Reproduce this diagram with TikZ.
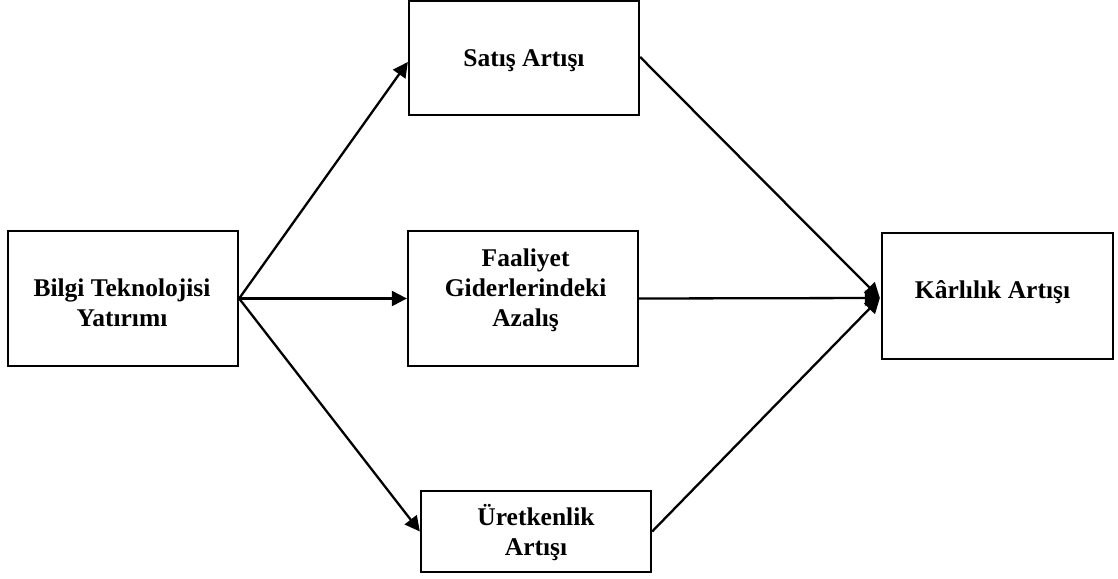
\documentclass[tikz,border=0pt]{standalone}
\usepackage{fontspec}
\setmainfont{Liberation Serif}
\usetikzlibrary{arrows.meta,calc}
\begin{document}
\begin{tikzpicture}[x=1pt,y=-1pt,
  box/.style={draw=black, line width=2.3pt, rectangle, inner sep=0pt},
  lbl/.style={anchor=base, align=center, inner sep=0pt,
    font=\bfseries\fontsize{25.5}{30}\selectfont},
  link/.style={draw=black, line width=2.3pt,
    -{Triangle[length=15pt,width=15pt]}}]
\useasboundingbox (0,0) rectangle (1118,578);

% boxes
\node[box, minimum width=230pt, minimum height=135pt] (inv)    at (123,298.5) {};
\node[box, minimum width=230pt, minimum height=114pt] (sales)  at (524,58) {};
\node[box, minimum width=230pt, minimum height=135pt] (cost)   at (523,298.5) {};
\node[box, minimum width=230pt, minimum height=81pt]  (prod)   at (536,531.5) {};
\node[box, minimum width=231pt, minimum height=126pt] (profit) at (997.5,296) {};

% labels (base = baseline of the last line)
\node[lbl] (invT)    at (122,326.7)   {Bilgi Teknolojisi\\Yatırımı};
\node[lbl] (salesT)  at (524,66.7)    {Satış Artışı};
\node[lbl] (costT)   at (525.6,326.7) {Faaliyet\\Giderlerindeki\\Azalış};
\node[lbl] (prodT)   at (536,555)     {Üretkenlik\\Artışı};
\node[lbl] (profitT) at (992.5,298)   {Kârlılık Artışı};

% arrows
\coordinate (salesIn) at ($(sales.west)+(0,4)$);
\coordinate (salesOut) at ($(sales.east)+(0,-1)$);
\coordinate (profitIn) at ($(profit.west)+(-1,2)$);
\draw[link] (inv.east) -- (salesIn);
\draw[link] (inv.east) -- (cost.west);
\draw[link] (inv.east) -- (prod.west);
\draw[link] (salesOut) -- (profitIn);
\draw[link] (cost.east) -- (profitIn);
\draw[link] (prod.east) -- (profitIn);
\end{tikzpicture}
\end{document}
